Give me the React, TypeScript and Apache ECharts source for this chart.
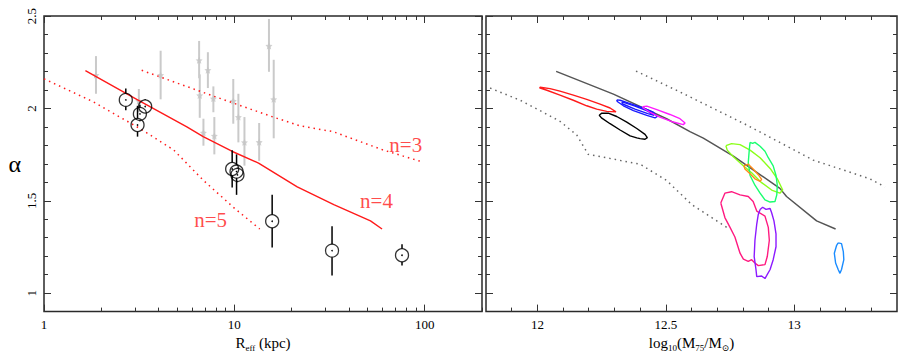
import React, { useEffect, useRef } from 'react';
import * as echarts from 'echarts';

const FONT = "'Liberation Serif', 'DejaVu Serif', serif";

// ---------- Left panel (alpha vs R_eff) ----------
const blackR = [2.69, 3.19, 3.40, 3.10, 9.74, 10.27, 10.38, 15.8, 32.6, 76.0];
const blackAlpha = [2.046, 1.97, 2.01, 1.91, 1.672, 1.658, 1.64, 1.389, 1.23, 1.205];
const blackLo = [1.99, 1.93, 1.98, 1.847, 1.572, 1.532, 1.60, 1.247, 1.096, 1.149];
const blackHi = [2.107, 2.02, 2.05, 2.014, 1.774, 1.751, 1.68, 1.532, 1.362, 1.265];

const greyR = [1.875, 3.15, 4.10, 6.53, 6.58, 7.26, 6.88, 7.76, 7.85, 9.87, 10.5, 11.3, 13.5, 15.2, 16.1];
const greyAlpha = [2.18, 2.04, 2.18, 2.26, 2.07, 2.207, 1.868, 2.053, 1.851, 2.04, 1.953, 1.816, 1.817, 2.338, 2.049];
const greyLo = [2.079, 1.98, 2.049, 2.163, 1.949, 2.11, 1.798, 1.979, 1.751, 1.917, 1.816, 1.69, 1.716, 2.198, 1.838];
const greyHi = [2.283, 2.105, 2.312, 2.365, 2.184, 2.304, 1.944, 2.119, 1.953, 2.159, 2.079, 1.953, 1.921, 2.484, 2.263];

const n4R = [1.65, 3.07, 5.63, 6.86, 9.7, 13.4, 21.4, 33.3, 51.9, 59.7];
const n4A = [2.204, 2.049, 1.90, 1.847, 1.768, 1.704, 1.575, 1.479, 1.391, 1.347];
const n3R = [3.26, 7.74, 16.0, 22.2, 33.0, 60.4, 98.0];
const n3A = [2.206, 2.067, 1.953, 1.905, 1.874, 1.775, 1.709];
const n5R = [1.0, 1.82, 3.2, 4.8, 6.88, 10.0, 13.6];
const n5A = [2.16, 2.035, 1.89, 1.775, 1.61, 1.46, 1.347];

const labelText = ['n=3', 'n=4', 'n=5'];
const labelR = [79.5, 55.8, 7.5];
const labelA = [1.80, 1.496, 1.395];

const leftXMajor = [1, 10, 100];
const leftXMinor = [2, 3, 4, 5, 6, 7, 8, 9, 20, 30, 40, 50, 60, 70, 80, 90, 200];
const yMajor = [1, 1.5, 2, 2.5];
const yMinor = [1.1, 1.2, 1.3, 1.4, 1.6, 1.7, 1.8, 1.9, 2.1, 2.2, 2.3, 2.4];

// ---------- Right panel (alpha vs log10 M75) ----------
const modelM = [12.073, 12.296, 12.503, 12.594, 12.646, 12.763, 12.854, 12.944, 12.970, 13.087, 13.161];
const modelA = [2.2, 2.077, 1.944, 1.874, 1.839, 1.742, 1.654, 1.567, 1.523, 1.391, 1.347];
const upperM = [12.384, 12.555, 12.815, 13.074, 13.294, 13.353];
const upperA = [2.202, 2.089, 1.91, 1.72, 1.619, 1.575];
const lowerM = [11.816, 11.933, 12.01, 12.088, 12.153, 12.198, 12.4, 12.503, 12.601, 12.737];
const lowerA = [2.11, 2.044, 1.988, 1.93, 1.856, 1.751, 1.698, 1.61, 1.479, 1.356];

const rightXMajor = [12, 12.5, 13];
const rightXMinor = [11.9, 12.1, 12.2, 12.3, 12.4, 12.6, 12.7, 12.8, 12.9, 13.1, 13.2, 13.3];

const contourRed = [[12.008, 2.111], [12.011, 2.114], [12.049, 2.107], [12.088, 2.093], [12.140, 2.072], [12.192, 2.049], [12.244, 2.023], [12.283, 2.002], [12.306, 1.981], [12.270, 1.984], [12.231, 1.996], [12.192, 2.014], [12.140, 2.044], [12.088, 2.072], [12.037, 2.098], [12.008, 2.111]];
const contourBlue = [[12.309, 2.046], [12.322, 2.044], [12.361, 2.026], [12.412, 2.002], [12.451, 1.979], [12.467, 1.956], [12.458, 1.949], [12.426, 1.962], [12.374, 1.988], [12.335, 2.014], [12.311, 2.037], [12.309, 2.046]];
const contourBlueInner = [[12.33, 2.035], [12.38, 2.012], [12.43, 1.985], [12.455, 1.962], [12.43, 1.972], [12.38, 1.996], [12.33, 2.025], [12.33, 2.035]];
const contourMagenta = [[12.410, 2.009], [12.426, 2.012], [12.465, 1.993], [12.516, 1.967], [12.555, 1.944], [12.575, 1.921], [12.568, 1.912], [12.529, 1.926], [12.477, 1.953], [12.439, 1.979], [12.412, 2.002], [12.410, 2.009]];
const contourBlack = [[12.244, 1.967], [12.251, 1.974], [12.276, 1.974], [12.309, 1.956], [12.348, 1.926], [12.387, 1.891], [12.419, 1.859], [12.428, 1.842], [12.419, 1.833], [12.400, 1.836], [12.387, 1.840], [12.361, 1.851], [12.322, 1.883], [12.283, 1.917], [12.251, 1.947], [12.241, 1.962], [12.244, 1.967]];
const contourLime = [[12.734, 1.798], [12.756, 1.809], [12.789, 1.804], [12.828, 1.774], [12.867, 1.733], [12.906, 1.675], [12.934, 1.619], [12.955, 1.558], [12.944, 1.541], [12.912, 1.558], [12.873, 1.598], [12.834, 1.651], [12.795, 1.698], [12.763, 1.738], [12.739, 1.774], [12.734, 1.798]];
const contourGreen = [[12.828, 1.816], [12.838, 1.810], [12.847, 1.816], [12.867, 1.795], [12.886, 1.768], [12.899, 1.733], [12.918, 1.689], [12.929, 1.637], [12.934, 1.584], [12.932, 1.532], [12.925, 1.496], [12.906, 1.493], [12.886, 1.505], [12.867, 1.541], [12.847, 1.584], [12.828, 1.637], [12.821, 1.707], [12.825, 1.777], [12.828, 1.816]];
const contourOrange = [[12.804, 1.689], [12.821, 1.698], [12.840, 1.672], [12.860, 1.641], [12.873, 1.616], [12.867, 1.605], [12.847, 1.619], [12.828, 1.646], [12.808, 1.672], [12.804, 1.689]];
const contourPink = [[12.714, 1.488], [12.730, 1.541], [12.756, 1.549], [12.789, 1.532], [12.821, 1.523], [12.840, 1.496], [12.854, 1.444], [12.886, 1.417], [12.899, 1.356], [12.903, 1.286], [12.895, 1.198], [12.886, 1.154], [12.860, 1.149], [12.847, 1.163], [12.834, 1.181], [12.821, 1.172], [12.802, 1.184], [12.789, 1.216], [12.769, 1.304], [12.750, 1.356], [12.730, 1.409], [12.714, 1.488]];
const contourPurple = [[12.867, 1.453], [12.877, 1.465], [12.890, 1.453], [12.906, 1.458], [12.912, 1.435], [12.921, 1.391], [12.929, 1.321], [12.929, 1.251], [12.918, 1.181], [12.906, 1.128], [12.893, 1.096], [12.886, 1.079], [12.873, 1.093], [12.854, 1.089], [12.851, 1.128], [12.844, 1.198], [12.847, 1.286], [12.854, 1.374], [12.860, 1.426], [12.867, 1.453]];
const contourAzure = [[13.171, 1.272], [13.184, 1.268], [13.191, 1.225], [13.193, 1.181], [13.184, 1.128], [13.178, 1.107], [13.171, 1.128], [13.161, 1.163], [13.156, 1.216], [13.165, 1.259], [13.171, 1.272]];

const contours = [
  { data: contourRed, color: '#ff1a1a' },
  { data: contourBlack, color: '#000000' },
  { data: contourBlue, color: '#1a1aff' },
  { data: contourBlueInner, color: '#1a1aff' },
  { data: contourMagenta, color: '#ff1aff' },
  { data: contourLime, color: '#8cff1a' },
  { data: contourGreen, color: '#1aff6e' },
  { data: contourOrange, color: '#ff8c1a' },
  { data: contourPink, color: '#ff1a80' },
  { data: contourPurple, color: '#8c1aff' },
  { data: contourAzure, color: '#1a8cff' },
];

const TICK = { color: '#333', width: 1 };
const STAR = 'path://M0,-10 L2.9,-4 L9.5,-3.1 L4.7,1.5 L5.9,8.1 L0,5 L-5.9,8.1 L-4.7,1.5 L-9.5,-3.1 L-2.9,-4 Z';

function xAxes(gridIndex: number, type: string, min: number, max: number, major: number[], minor: number[], name: string, rich: any) {
  const base: any = {
    gridIndex, type, min, max,
    axisLine: { show: false, onZero: false },
    splitLine: { show: false },
  };
  if (type === 'log') base.logBase = 10;
  return [
    {
      ...base, position: 'bottom',
      axisTick: { show: true, inside: true, length: 7, customValues: major, lineStyle: TICK },
      axisLabel: { show: true, customValues: major, margin: 6, fontFamily: FONT, fontSize: 13, color: '#000' },
      name, nameLocation: 'middle', nameGap: 19,
      nameTextStyle: { fontFamily: FONT, color: '#000', rich },
    },
    { ...base, position: 'bottom', axisTick: { show: true, inside: true, length: 4, customValues: minor, lineStyle: TICK }, axisLabel: { show: false } },
    { ...base, position: 'top', axisTick: { show: true, inside: true, length: 7, customValues: major, lineStyle: TICK }, axisLabel: { show: false } },
    { ...base, position: 'top', axisTick: { show: true, inside: true, length: 4, customValues: minor, lineStyle: TICK }, axisLabel: { show: false } },
  ];
}

function yAxes(gridIndex: number, showLabels: boolean) {
  const base: any = {
    gridIndex, type: 'value', min: 0.9, max: 2.5,
    axisLine: { show: false, onZero: false },
    splitLine: { show: false },
  };
  const main: any = {
    ...base, position: 'left',
    axisTick: { show: true, inside: true, length: 7, customValues: yMajor, lineStyle: TICK },
    axisLabel: showLabels
      ? { show: true, customValues: yMajor, rotate: 90, margin: 6, fontFamily: FONT, fontSize: 13, color: '#000' }
      : { show: false },
  };
  if (showLabels) {
    main.name = 'α';
    main.nameLocation = 'middle';
    main.nameRotate = 0;
    main.nameGap = 23;
    main.nameTextStyle = { fontFamily: FONT, fontSize: 24, color: '#000', padding: [10, 0, 0, 0] };
  }
  return [
    main,
    { ...base, position: 'left', axisTick: { show: true, inside: true, length: 4, customValues: yMinor, lineStyle: TICK }, axisLabel: { show: false } },
    { ...base, position: 'right', axisTick: { show: true, inside: true, length: 7, customValues: yMajor, lineStyle: TICK }, axisLabel: { show: false } },
    { ...base, position: 'right', axisTick: { show: true, inside: true, length: 4, customValues: yMinor, lineStyle: TICK }, axisLabel: { show: false } },
  ];
}

const nameRich = {
  a: { fontFamily: FONT, fontSize: 15, color: '#000', lineHeight: 18 },
  s: { fontFamily: FONT, fontSize: 9, color: '#000', lineHeight: 18, verticalAlign: 'bottom' },
};

export default function App() {
  const ref = useRef<HTMLDivElement>(null);
  useEffect(() => {
    if (!ref.current) return;
    const chart = echarts.init(ref.current, undefined, { renderer: 'svg' });

    const zip = (a: number[], b: number[]) => a.map((v, i) => [v, b[i]]);
    const L = { xAxisIndex: 0, yAxisIndex: 0 };
    const R = { xAxisIndex: 4, yAxisIndex: 4 };

    const series: any[] = [];
    series.push({
      type: 'custom', ...L, silent: true, z: 2,
      data: greyR.map((r, i) => [r, greyAlpha[i], greyLo[i], greyHi[i]]),
      encode: { x: 0, y: [1, 2, 3] },
      renderItem: (params: any, api: any) => {
        const x = api.value(0);
        const pl = api.coord([x, api.value(2)]);
        const ph = api.coord([x, api.value(3)]);
        return { type: 'line', shape: { x1: pl[0], y1: pl[1], x2: ph[0], y2: ph[1] }, style: { stroke: '#cacaca', lineWidth: 2 } };
      },
    });
    series.push({
      type: 'scatter', ...L, silent: true, z: 3,
      symbol: STAR, symbolSize: 7,
      itemStyle: { color: '#c4c4c4' },
      data: zip(greyR, greyAlpha),
    });
    series.push({ type: 'line', ...L, silent: true, showSymbol: false, data: zip(n4R, n4A), lineStyle: { color: '#ff1a1a', width: 1.4 }, z: 4 });
    series.push({ type: 'line', ...L, silent: true, showSymbol: false, data: zip(n3R, n3A), lineStyle: { color: '#ff1a1a', width: 1.5, type: [1.5, 4] }, z: 4 });
    series.push({ type: 'line', ...L, silent: true, showSymbol: false, data: zip(n5R, n5A), lineStyle: { color: '#ff1a1a', width: 1.5, type: [1.5, 4] }, z: 4 });
    series.push({
      type: 'custom', ...L, silent: true, z: 5,
      data: blackR.map((r, i) => [r, blackAlpha[i], blackLo[i], blackHi[i]]),
      encode: { x: 0, y: [1, 2, 3] },
      renderItem: (params: any, api: any) => {
        const x = api.value(0);
        const c = api.coord([x, api.value(1)]);
        const pl = api.coord([x, api.value(2)]);
        const ph = api.coord([x, api.value(3)]);
        const r = 6.5;
        const children: any[] = [];
        if (pl[1] > c[1] + r) children.push({ type: 'line', shape: { x1: c[0], y1: c[1] + r, x2: c[0], y2: pl[1] }, style: { stroke: '#000', lineWidth: 1.5 } });
        if (ph[1] < c[1] - r) children.push({ type: 'line', shape: { x1: c[0], y1: c[1] - r, x2: c[0], y2: ph[1] }, style: { stroke: '#000', lineWidth: 1.5 } });
        children.push({ type: 'circle', shape: { cx: c[0], cy: c[1], r: 0.8 }, style: { fill: '#000' } });
        return { type: 'group', children };
      },
    });
    series.push({
      type: 'scatter', ...L, silent: true, z: 6,
      symbol: 'circle', symbolSize: 13,
      itemStyle: { color: 'rgba(0,0,0,0)', borderColor: '#000', borderWidth: 1.3 },
      data: zip(blackR, blackAlpha),
    });
    series.push({
      type: 'scatter', ...L, silent: true, z: 7,
      symbol: 'circle', symbolSize: 1,
      itemStyle: { color: 'rgba(0,0,0,0)' },
      label: { show: true, position: 'inside', formatter: (p: any) => p.name, fontFamily: FONT, fontSize: 21, color: '#ff1a1a' },
      data: labelText.map((t, i) => ({ name: t, value: [labelR[i], labelA[i]] })),
    });

    series.push({ type: 'line', ...R, silent: true, showSymbol: false, data: zip(modelM, modelA), lineStyle: { color: '#555', width: 1.5 }, z: 3 });
    series.push({ type: 'line', ...R, silent: true, showSymbol: false, data: zip(upperM, upperA), lineStyle: { color: '#666', width: 1.5, type: [1.5, 4] }, z: 3 });
    series.push({ type: 'line', ...R, silent: true, showSymbol: false, data: zip(lowerM, lowerA), lineStyle: { color: '#666', width: 1.5, type: [1.5, 4] }, z: 3 });
    contours.forEach((c) => {
      series.push({ type: 'line', ...R, silent: true, showSymbol: false, data: c.data, lineStyle: { color: c.color, width: 1.4 }, z: 4 });
    });

    chart.setOption({
      animation: false,
      textStyle: { fontFamily: FONT },
      grid: [
        { left: 44, right: 418, top: 16, bottom: 37, show: true, borderColor: '#2a2a2a', borderWidth: 1.5, backgroundColor: 'transparent' },
        { left: 486, right: 3, top: 16, bottom: 37, show: true, borderColor: '#2a2a2a', borderWidth: 1.5, backgroundColor: 'transparent' },
      ],
      xAxis: [
        ...xAxes(0, 'log', 1, 200, leftXMajor, leftXMinor, '{a|R}{s|eff}{a| (kpc)}', nameRich),
        ...xAxes(1, 'value', 11.8, 13.4, rightXMajor, rightXMinor, '{a|log}{s|10}{a|(M}{s|75}{a|/M}{s|⊙}{a|)}', nameRich),
      ],
      yAxis: [...yAxes(0, true), ...yAxes(1, false)],
      series,
    });
    return () => chart.dispose();
  }, []);
  return <div ref={ref} style={{ position: 'absolute', left: 0, top: 0, width: 900, height: 357 }} />;
}
